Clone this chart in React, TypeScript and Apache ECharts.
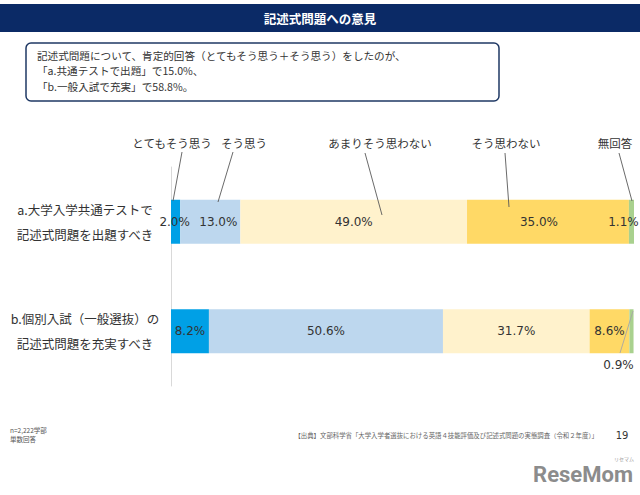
import React, { useEffect, useRef } from "react";
import * as echarts from "echarts";

const categories = [
  "a.大学入学共通テストで\n記述式問題を出題すべき",
  "b.個別入試（一般選抜）の\n記述式問題を充実すべき",
];
const responses = ["とてもそう思う", "そう思う", "あまりそう思わない", "そう思わない", "無回答"];
const veryAgree = [2.0, 8.2];
const agree = [13.0, 50.6];
const notReally = [49.0, 31.7];
const disagree = [35.0, 8.6];
const noAnswer = [1.1, 0.9];

const summaryLines = [
  "記述式問題について、肯定的回答（とてもそう思う＋そう思う）をしたのが、",
  "「a.共通テストで出題」で15.0%、",
  "「b.一般入試で充実」で58.8%。",
];
const noteLines = ["n=2,222学部", "単数回答"];

const colors = ["#00a0e6", "#bdd7ee", "#fff2cc", "#ffd966", "#a9d18e"];
// per-series label offsets for [a, b] (x only), layout tweaks
const labelOffsets: number[][] = [
  [-1, 0],
  [8, 0],
  [0, 0],
  [-9, 0],
  [-8, 0],
];

const JP = "'Noto Sans CJK JP', 'Noto Sans', sans-serif";
const NUM = "'DejaVu Sans', sans-serif";

export default function App() {
  const ref = useRef<HTMLDivElement>(null);
  useEffect(() => {
    if (!ref.current) return;
    const chart = echarts.init(ref.current, null, { renderer: "svg" });
    const seriesData = [veryAgree, agree, notReally, disagree, noAnswer];
    const series = seriesData.map((vals, si) => ({
      name: responses[si],
      type: "bar",
      stack: "total",
      barWidth: 44,
      itemStyle: { color: colors[si] },
      data: vals.map((v, ci) => {
        const isBelow = si === 4 && ci === 1;
        return {
          value: v,
          label: isBelow
            ? { show: true, position: "bottom", distance: 4, offset: [-13, 2] }
            : { show: true, position: "inside", offset: [labelOffsets[si][ci], 0] },
        };
      }),
      label: {
        show: true,
        color: "#333333",
        fontSize: 12,
        fontFamily: NUM,
        formatter: (p: any) => Number(p.value).toFixed(1) + "%",
      },
    }));

    const leader = (x1: number, y1: number, x2: number, y2: number, stroke = "#595959") => ({
      type: "line",
      z: 100,
      shape: { x1, y1, x2, y2 },
      style: { stroke, lineWidth: 0.9 },
    });
    const legendText = (text: string, cx: number) => ({
      type: "text",
      z: 100,
      x: cx,
      y: 143,
      style: {
        text,
        fill: "#333333",
        font: `11.5px ${JP}`,
        align: "center",
        verticalAlign: "middle",
      },
    });

    chart.setOption({
      animation: false,
      backgroundColor: "#ffffff",
      grid: { left: 171, right: 6, top: 167, height: 219, containLabel: false },
      xAxis: { type: "value", min: 0, max: 100.1, show: false },
      yAxis: {
        type: "category",
        data: categories,
        inverse: true,
        axisLine: { show: true, lineStyle: { color: "#d9d9d9", width: 1 } },
        axisTick: { show: false },
        axisLabel: {
          margin: 86,
          align: "center",
          color: "#333333",
          fontSize: 12.5,
          lineHeight: 25,
          fontFamily: JP,
        },
      },
      series,
      graphic: [
        { type: "rect", z: 50, shape: { x: 0, y: 4, width: 640, height: 28 }, style: { fill: "#0b2a66" } },
        {
          type: "text",
          z: 51,
          x: 320,
          y: 18,
          style: {
            text: "記述式問題への意見",
            fill: "#ffffff",
            font: `bold 12.5px ${JP}`,
            align: "center",
            verticalAlign: "middle",
          },
        },
        {
          type: "rect",
          z: 50,
          shape: { x: 26, y: 43, width: 473, height: 58, r: 5 },
          style: { fill: "#ffffff", stroke: "#1f3864", lineWidth: 1.5 },
        },
        ...summaryLines.map((t, i) => ({
          type: "text",
          z: 51,
          x: 37,
          y: 55.5 + i * 15.3,
          style: {
            text: t,
            fill: "#333333",
            font: `10.6px ${JP}`,
            align: "left",
            verticalAlign: "middle",
          },
        })),
        legendText(responses[0], 172),
        legendText(responses[1], 244),
        legendText(responses[2], 380),
        legendText(responses[3], 506),
        legendText(responses[4], 615),
        leader(182, 152, 173, 201),
        leader(233, 152, 218, 202),
        leader(365, 153, 382, 215),
        leader(505, 153, 509, 207),
        leader(619, 153, 632, 201),
        leader(633, 311, 620, 353, "#a6a6a6"),
        ...noteLines.map((t, i) => ({
          type: "text",
          z: 51,
          x: 10,
          y: 430 + i * 9,
          style: { text: t, fill: "#555555", font: `6.5px ${JP}`, align: "left", verticalAlign: "middle" },
        })),
        {
          type: "text",
          z: 51,
          x: 598,
          y: 435,
          style: {
            text: "【出典】文部科学省「大学入学者選抜における英語４技能評価及び記述式問題の実態調査（令和２年度）」",
            fill: "#666666",
            font: `6.4px ${JP}`,
            align: "right",
            verticalAlign: "middle",
          },
        },
        {
          type: "text",
          z: 51,
          x: 622,
          y: 435,
          style: { text: "19", fill: "#333333", font: `10px ${NUM}`, align: "center", verticalAlign: "middle" },
        },
        {
          type: "text",
          z: 51,
          x: 633,
          y: 474,
          style: {
            text: "ReseMom",
            fill: "#8c8c8c",
            font: `bold 22px Roboto, sans-serif`,
            align: "right",
            verticalAlign: "middle",
          },
        },
        {
          type: "text",
          z: 51,
          x: 624,
          y: 458,
          style: { text: "リセマム", fill: "#9a9a9a", font: `5px ${JP}`, align: "center", verticalAlign: "middle" },
        },
      ],
    });
    return () => chart.dispose();
  }, []);
  return (
    <div
      ref={ref}
      style={{ position: "fixed", left: 0, top: 0, width: 640, height: 495, background: "#fff" }}
    />
  );
}
